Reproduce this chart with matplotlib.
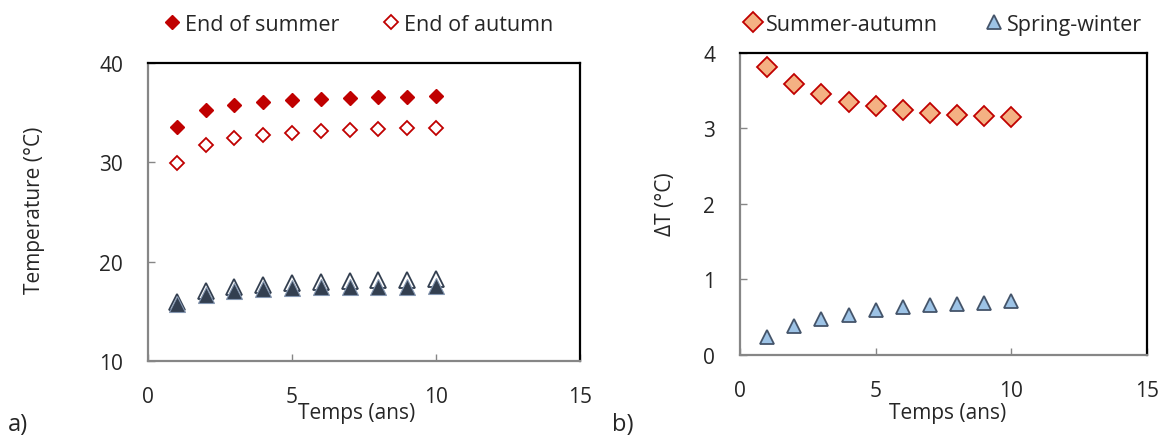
import matplotlib
matplotlib.use('Agg')
import matplotlib.pyplot as plt

plt.rcParams['font.family'] = ['Open Sans', 'DejaVu Sans']
plt.rcParams['text.color'] = '#262626'

years = [1, 2, 3, 4, 5, 6, 7, 8, 9, 10]

# panel a) temperatures (°C)
end_summer = [33.6, 35.3, 35.8, 36.1, 36.3, 36.4, 36.5, 36.6, 36.6, 36.7]
end_autumn = [29.9, 31.7, 32.4, 32.8, 33.0, 33.2, 33.3, 33.4, 33.5, 33.5]
end_winter = [15.7, 16.6, 17.0, 17.2, 17.3, 17.4, 17.5, 17.5, 17.5, 17.6]
end_spring = [15.9, 17.0, 17.5, 17.7, 17.9, 18.0, 18.1, 18.2, 18.2, 18.3]

# panel b) differences (°C)
summer_autumn = [3.81, 3.59, 3.45, 3.35, 3.30, 3.25, 3.20, 3.18, 3.17, 3.15]
spring_winter = [0.24, 0.38, 0.48, 0.53, 0.59, 0.63, 0.66, 0.67, 0.69, 0.72]

fig = plt.figure(figsize=(11.63, 4.39), dpi=100)
ax1 = fig.add_axes([0.1273, 0.1754, 0.3715, 0.6788])
ax2 = fig.add_axes([0.6363, 0.1891, 0.350, 0.688])

red = '#c00000'
ax1.plot(years, end_summer, 'D', color=red, ms=7.5, mec=red, ls='none', label='End of summer')
ax1.plot(years, end_autumn, 'D', mfc='white', mec=red, mew=1.3, ms=7.5, ls='none', label='End of autumn')
ax1.plot(years, end_spring, '^', mfc='white', mec='#333f50', mew=1.3, ms=11, ls='none', zorder=3)
ax1.plot(years, end_winter, '^', mfc='#333f50', mec='#8496b0', mew=0.8, ms=11, ls='none', zorder=4)
ax1.set_xlim(0, 15)
ax1.set_ylim(10, 40)
ax1.set_xticks([0, 5, 10, 15])
ax1.set_yticks([10, 20, 30, 40])

ax2.plot(years, summer_autumn, 'D', mfc='#f4b183', mec=red, mew=1.3, ms=10, ls='none', label='Summer-autumn')
ax2.plot(years, spring_winter, '^', mfc='#9dc3e6', mec='#44546a', mew=1.3, ms=10.5, ls='none', label='Spring-winter')
ax2.set_xlim(0, 15)
ax2.set_ylim(0, 4)
ax2.set_xticks([0, 5, 10, 15])
ax2.set_yticks([0, 1, 2, 3, 4])

for ax in (ax1, ax2):
    for side in ('left', 'bottom'):
        ax.spines[side].set_color('#868686')
        ax.spines[side].set_linewidth(1.6)
    for side in ('top', 'right'):
        ax.spines[side].set_color('black')
        ax.spines[side].set_linewidth(1.6)
    ax.tick_params(direction='in', length=5, width=1, color='#868686',
                   labelsize=15, labelcolor='#262626', pad=18)

fig.legend(handles=ax1.get_lines()[:2], loc='center left', bbox_to_anchor=(0.126, 0.943),
           ncol=2, frameon=False, fontsize=15.5, handlelength=0.6, handletextpad=0.3,
           columnspacing=2.1)
fig.legend(handles=ax2.get_lines()[:2], loc='center left', bbox_to_anchor=(0.625, 0.943),
           ncol=2, frameon=False, fontsize=15.5, handlelength=0.6, handletextpad=0.3,
           columnspacing=2.3)

fig.text(0.307, 0.058, 'Temps (ans)', fontsize=15, ha='center', va='center')
fig.text(0.815, 0.058, 'Temps (ans)', fontsize=15, ha='center', va='center')
fig.text(0.030, 0.52, 'Temperature (°C)', fontsize=15, rotation=90, ha='center', va='center')
fig.text(0.572, 0.535, 'ΔT (°C)', fontsize=15, rotation=90, ha='center', va='center')
fig.text(0.007, 0.032, 'a)', fontsize=17, ha='left', va='center')
fig.text(0.526, 0.032, 'b)', fontsize=17, ha='left', va='center')

fig.savefig('out.png', dpi=100)
